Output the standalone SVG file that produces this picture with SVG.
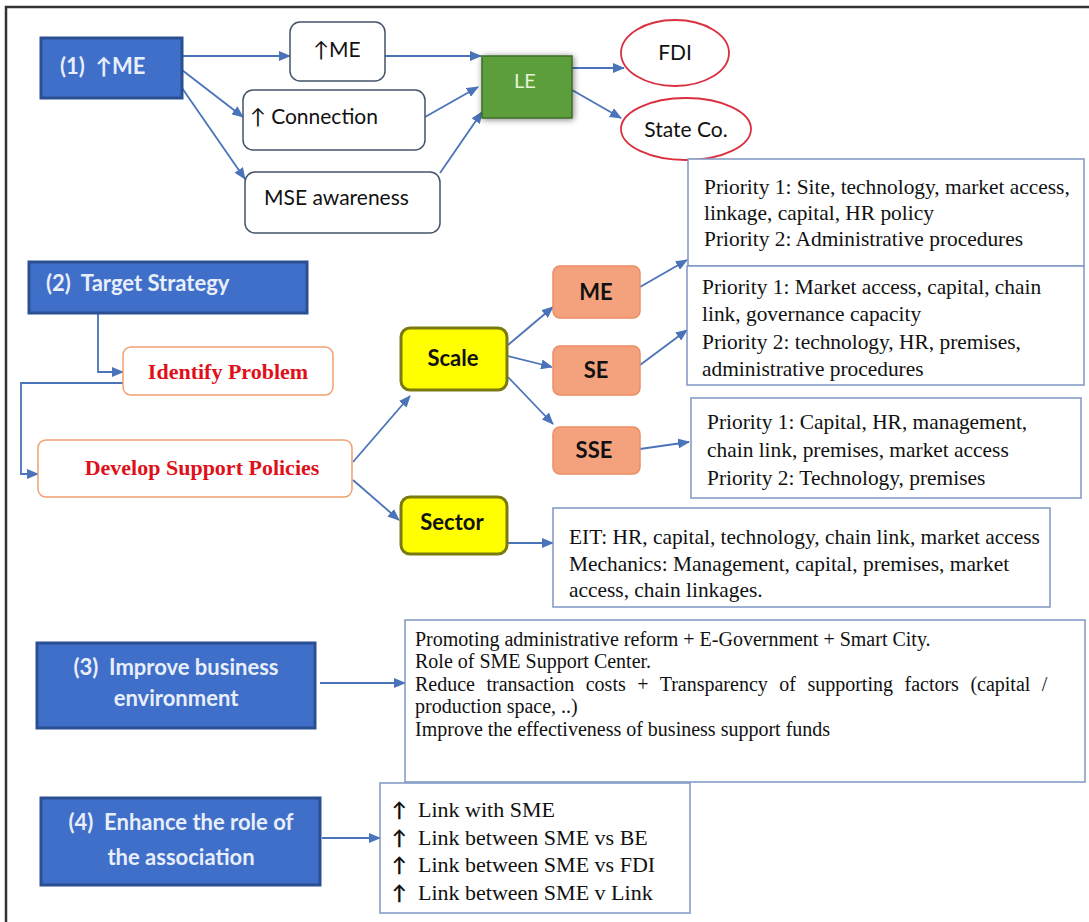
<svg xmlns="http://www.w3.org/2000/svg" width="1089" height="922" viewBox="0 0 1089 922">
<style>
.bg{fill:#ffffff}
.frame{stroke:#333;stroke-width:2.5;fill:none}
.blue{fill:#3f6fc9;stroke:#2b4f93;stroke-width:3}
.btxt{font-family:Lato,"Open Sans",sans-serif;font-weight:bold;font-size:22px;fill:#e8eefa;white-space:pre}
.rbox{fill:#fff;stroke:#44546a;stroke-width:1.5}
.stxt{font-family:Lato,"Open Sans",sans-serif;font-size:21px;fill:#111}
.ell{fill:#fff;stroke:#d9303f;stroke-width:1.8}
.obox{fill:#fff;stroke:#f0a070;stroke-width:1.5}
.rtxt{font-family:"Liberation Serif",serif;font-weight:bold;font-size:22px;fill:#e0101a}
.ybox{fill:#ffff00;stroke:#7a7a10;stroke-width:3}
.ytxt{font-family:Lato,"Open Sans",sans-serif;font-weight:bold;font-size:22px;fill:#111}
.sbox{fill:#f4a27e;stroke:#eb8e64;stroke-width:1.5}
.cbox{fill:#fff;stroke:#7d97c4;stroke-width:1.5}
.ctxt{font-family:"Liberation Serif",serif;font-size:21.4px;fill:#111}
.etxt{font-family:"Liberation Serif",serif;font-size:20px;fill:#111}
.atxt{font-family:"Liberation Serif",serif;font-size:22px;fill:#111}
.arrw{font-family:Lato,"Open Sans",sans-serif;font-size:20px;font-weight:bold;fill:#111}
.conn{stroke:#4a73b9;stroke-width:1.8;fill:none}
</style>
<defs>
<marker id="arr" markerWidth="12" markerHeight="10" refX="11" refY="5" orient="auto" markerUnits="userSpaceOnUse">
<path d="M0,0 L12,5 L0,10 Z" fill="#4a73b9"/>
</marker>
<filter id="glow" x="-20%" y="-20%" width="140%" height="140%">
<feGaussianBlur in="SourceAlpha" stdDeviation="3"/>
<feOffset dx="1" dy="1"/>
<feComponentTransfer><feFuncA type="linear" slope="0.5"/></feComponentTransfer>
<feMerge><feMergeNode/><feMergeNode in="SourceGraphic"/></feMerge>
</filter>
</defs>
<rect class="bg" x="0" y="0" width="1089" height="922"/>
<path class="frame" d="M6,922 L6,7 L1089,7"/>

<g id="connectors">
<line class="conn" x1="182" y1="56" x2="290" y2="56" marker-end="url(#arr)"/>
<line class="conn" x1="182" y1="70" x2="243" y2="117" marker-end="url(#arr)"/>
<line class="conn" x1="182" y1="88" x2="245" y2="179" marker-end="url(#arr)"/>
<line class="conn" x1="385" y1="56" x2="481" y2="56" marker-end="url(#arr)"/>
<line class="conn" x1="425" y1="117" x2="478" y2="87" marker-end="url(#arr)"/>
<line class="conn" x1="440" y1="173" x2="482" y2="112" marker-end="url(#arr)"/>
<line class="conn" x1="572" y1="68" x2="624" y2="68" marker-end="url(#arr)"/>
<line class="conn" x1="572" y1="90" x2="621" y2="118" marker-end="url(#arr)"/>
<path class="conn" d="M98,313 L98,372 L123,372" marker-end="url(#arr)"/>
<path class="conn" d="M123,383 L21,383 L21,474 L38,474" marker-end="url(#arr)"/>
<line class="conn" x1="353" y1="462" x2="410" y2="396" marker-end="url(#arr)"/>
<line class="conn" x1="353" y1="480" x2="399" y2="520" marker-end="url(#arr)"/>
<line class="conn" x1="508" y1="345" x2="553" y2="307" marker-end="url(#arr)"/>
<line class="conn" x1="508" y1="356" x2="552" y2="367" marker-end="url(#arr)"/>
<line class="conn" x1="508" y1="377" x2="553" y2="424" marker-end="url(#arr)"/>
<line class="conn" x1="640" y1="287" x2="687" y2="260" marker-end="url(#arr)"/>
<line class="conn" x1="640" y1="365" x2="687" y2="330" marker-end="url(#arr)"/>
<line class="conn" x1="640" y1="449" x2="689" y2="442" marker-end="url(#arr)"/>
<line class="conn" x1="508" y1="543" x2="553" y2="543" marker-end="url(#arr)"/>
<line class="conn" x1="320" y1="683" x2="405" y2="683" marker-end="url(#arr)"/>
<line class="conn" x1="322" y1="838" x2="380" y2="838" marker-end="url(#arr)"/>
</g>

<g id="n1">
<rect class="blue" x="41" y="38" width="141" height="60"/>
<text class="btxt" x="60" y="74" xml:space="preserve">(1)  ↑ME</text>
</g>
<g id="n-upme">
<rect class="rbox" x="290" y="22" width="95" height="59" rx="10"/>
<text class="stxt" x="337" y="57" text-anchor="middle">↑ME</text>
</g>
<g id="n-connection">
<rect class="rbox" x="243" y="90" width="182" height="60" rx="10"/>
<text class="stxt" x="250" y="124" font-size="22" xml:space="preserve">↑ Connection</text>
</g>
<g id="n-mse">
<rect class="rbox" x="245" y="172" width="195" height="61" rx="10"/>
<text class="stxt" x="264" y="205">MSE awareness</text>
</g>
<g id="n-le">
<rect x="482" y="56" width="90" height="62" fill="#5c9e3a" stroke="#3f6e28" stroke-width="1.5" filter="url(#glow)"/>
<text x="525" y="88" text-anchor="middle" font-family="Lato,'Open Sans',sans-serif" font-size="20" fill="#e8f2d6">LE</text>
</g>
<g id="n-fdi">
<ellipse class="ell" cx="675" cy="53" rx="54" ry="33"/>
<text class="stxt" x="675" y="60" text-anchor="middle">FDI</text>
</g>
<g id="n-state">
<ellipse class="ell" cx="686" cy="129" rx="65" ry="31"/>
<text class="stxt" x="686" y="137" text-anchor="middle">State Co.</text>
</g>

<g id="n2">
<rect class="blue" x="29" y="262" width="278" height="51"/>
<text class="btxt" x="46" y="291" xml:space="preserve">(2)  Target Strategy</text>
</g>
<g id="n-identify">
<rect class="obox" x="123" y="347" width="210" height="48" rx="8"/>
<text class="rtxt" x="228" y="379" text-anchor="middle">Identify Problem</text>
</g>
<g id="n-develop">
<rect class="obox" x="38" y="440" width="314" height="57" rx="8"/>
<text class="rtxt" x="202" y="475" text-anchor="middle" font-size="23">Develop Support Policies</text>
</g>
<g id="n-scale">
<rect class="ybox" x="401" y="328" width="106" height="62" rx="9"/>
<text class="ytxt" x="453" y="366" text-anchor="middle">Scale</text>
</g>
<g id="n-sector">
<rect class="ybox" x="401" y="497" width="106" height="57" rx="9"/>
<text class="ytxt" x="452" y="530" text-anchor="middle">Sector</text>
</g>
<g id="n-me">
<rect class="sbox" x="553" y="266" width="87" height="52" rx="7"/>
<text class="ytxt" x="596" y="300" text-anchor="middle">ME</text>
</g>
<g id="n-se">
<rect class="sbox" x="553" y="346" width="87" height="49" rx="7"/>
<text class="ytxt" x="596" y="378" text-anchor="middle">SE</text>
</g>
<g id="n-sse">
<rect class="sbox" x="553" y="427" width="87" height="47" rx="7"/>
<text class="ytxt" x="594" y="458" text-anchor="middle">SSE</text>
</g>
<g id="n-mebox">
<rect class="cbox" x="688" y="159" width="396" height="107"/>
<text class="ctxt" x="704" y="194">Priority 1: Site, technology, market access,</text>
<text class="ctxt" x="704" y="220">linkage, capital, HR policy</text>
<text class="ctxt" x="704" y="246">Priority 2: Administrative procedures</text>
</g>
<g id="n-sebox">
<rect class="cbox" x="687" y="266" width="397" height="119"/>
<text class="ctxt" x="702" y="294">Priority 1: Market access, capital, chain</text>
<text class="ctxt" x="702" y="321">link, governance capacity</text>
<text class="ctxt" x="702" y="349">Priority 2: technology, HR, premises,</text>
<text class="ctxt" x="702" y="376">administrative procedures</text>
</g>
<g id="n-ssebox">
<rect class="cbox" x="691" y="398" width="390" height="100"/>
<text class="ctxt" x="707" y="429">Priority 1: Capital, HR, management,</text>
<text class="ctxt" x="707" y="457">chain link, premises, market access</text>
<text class="ctxt" x="707" y="485">Priority 2: Technology, premises</text>
</g>
<g id="n-sectorbox">
<rect class="cbox" x="553" y="508" width="497" height="99"/>
<text class="ctxt" x="569" y="544">EIT: HR, capital, technology, chain link, market access</text>
<text class="ctxt" x="569" y="571">Mechanics: Management, capital, premises, market</text>
<text class="ctxt" x="569" y="597">access, chain linkages.</text>
</g>

<g id="n3">
<rect class="blue" x="37" y="643" width="278" height="85"/>
<text class="btxt" x="176" y="675" text-anchor="middle" xml:space="preserve">(3)  Improve business</text>
<text class="btxt" x="176" y="706" text-anchor="middle">environment</text>
</g>
<g id="n-envbox">
<rect class="cbox" x="405" y="620" width="680" height="162"/>
<text class="etxt" x="415" y="646">Promoting administrative reform + E-Government + Smart City.</text>
<text class="etxt" x="415" y="668">Role of SME Support Center.</text>
<text class="etxt" x="415" y="691" word-spacing="6.5">Reduce transaction costs + Transparency of supporting factors (capital /</text>
<text class="etxt" x="415" y="713">production space, ..)</text>
<text class="etxt" x="415" y="736">Improve the effectiveness of business support funds</text>
</g>

<g id="n4">
<rect class="blue" x="41" y="798" width="279" height="87"/>
<text class="btxt" x="181" y="830" text-anchor="middle" xml:space="preserve">(4)  Enhance the role of</text>
<text class="btxt" x="181" y="865" text-anchor="middle">the association</text>
</g>
<g id="n-assocbox">
<rect class="cbox" x="380" y="783" width="310" height="130"/>
<text class="arrw" x="392" y="817">↑</text>
<text class="atxt" x="418" y="817">Link with SME</text>
<text class="arrw" x="392" y="845">↑</text>
<text class="atxt" x="418" y="845">Link between SME vs BE</text>
<text class="arrw" x="392" y="872">↑</text>
<text class="atxt" x="418" y="872">Link between SME vs FDI</text>
<text class="arrw" x="392" y="900">↑</text>
<text class="atxt" x="418" y="900">Link between SME v Link</text>
</g>
</svg>
